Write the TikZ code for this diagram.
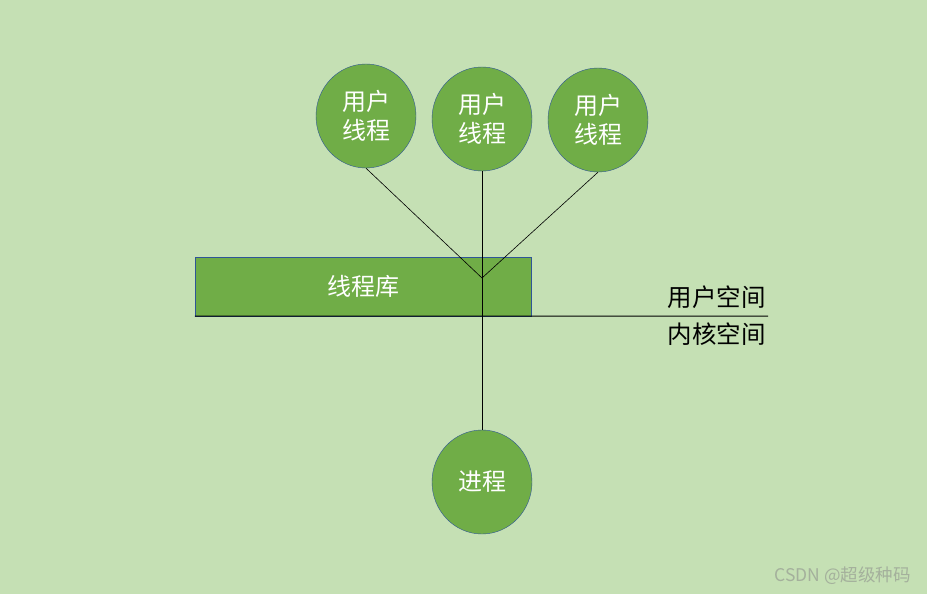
\documentclass[tikz,border=0pt]{standalone}
\usepackage{fontspec}
\setmainfont{Noto Sans CJK SC}
\usepackage{tikz}
\usetikzlibrary{positioning,shapes.geometric}
\definecolor{bgGreen}{HTML}{C5E0B4}
\definecolor{boxGreen}{HTML}{70AD47}
\definecolor{rimBlue}{HTML}{2F5597}
\definecolor{markGray}{HTML}{A4B09C}
\begin{document}
\begin{tikzpicture}[x=1pt,y=-1pt,semithin/.style={line width=0.6pt},
    thread/.style={ellipse,fill=boxGreen,draw=rimBlue,minimum width=100pt,minimum height=104pt,
      inner sep=0pt,align=center,text=white,font=\fontsize{24}{29.5}\selectfont},
    libbox/.style={rectangle,fill=boxGreen,draw=rimBlue,minimum width=336pt,minimum height=59pt,
      inner sep=0pt,text=white,font=\fontsize{24}{29}\selectfont},
    space/.style={anchor=east,inner sep=0pt,font=\fontsize{24.5}{29}\selectfont}]
        \fill [bgGreen] (0,0) rectangle (927,594);
        \useasboundingbox (0,0) rectangle (927,594);
        % user threads on top
        \node [thread] (ut1) at (366,116) {用户\\线程};
        \node [thread] (ut2) at (482,119) {用户\\线程};
        \node [thread] (ut3) at (598,120) {用户\\线程};
        \node [libbox] (lib) at (363,286.5) {线程库};
        \node [thread] (proc) at (482,482) {进程};
        \coordinate (meet) at (482,278);
        \coordinate (sepEnd) at (768,316);
        % user / kernel border
        \draw [line width=1pt] (lib.south west) -- (sepEnd);
        \node [space] (user) at (766,297) {用户空间};
        \node [space] (kern) at (766,334) {内核空间};
        \draw [semithin] (ut1.south) -- (meet) -- (ut3.south);
        \draw [semithin] (ut2.south) -- (proc.north);
        \node [anchor=east,inner sep=0pt,text=markGray,font=\fontsize{17.5}{20}\selectfont] (mark) at (911,576) {CSDN @超级种码};
    \end{tikzpicture}
\end{document}
